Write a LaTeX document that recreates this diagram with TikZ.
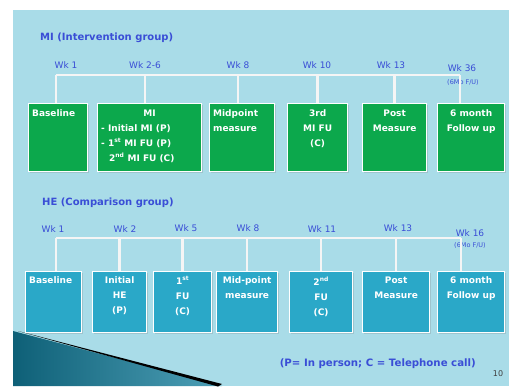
\documentclass[tikz,border=0pt]{standalone}
\usepackage{fontspec}
\setmainfont{DejaVu Sans}
\usetikzlibrary{shadows}
\definecolor{slidebg}{HTML}{A9DCE8}
\definecolor{migreen}{HTML}{0CA84C}
\definecolor{heblue}{HTML}{2AA8C8}
\definecolor{wkblue}{HTML}{3A4ED6}
\definecolor{wedge}{HTML}{13809F}
\newcommand{\cell}[3]{\parbox[t][#2][t]{#1}{#3}}
\tikzset{
  gb/.style={fill=migreen, draw=white, line width=1.3pt, anchor=north west,
             inner xsep=3.5pt, inner ysep=6.5pt, text=white,
             font=\fontsize{9}{15}\selectfont\bfseries,
             drop shadow={opacity=0.25, shadow xshift=1pt, shadow yshift=-1pt}},
  hb/.style={gb, fill=heblue, inner ysep=5pt},
  wk/.style={text=wkblue, font=\fontsize{9}{10}\selectfont, inner sep=0pt},
  fu/.style={text=wkblue, font=\fontsize{6.5}{7}\selectfont, inner sep=0pt},
  ttl/.style={text=wkblue, font=\fontsize{10}{11}\selectfont\bfseries,
              anchor=west, inner sep=0pt},
  bar/.style={white!92!gray, line width=2.4pt},
}

\begin{document}
\begin{tikzpicture}[x=1pt, y=-1pt]
    \useasboundingbox (0,0) rectangle (509,386);
    \fill[white] (0,0) rectangle (509,386);
    \fill[slidebg] (13,10) rectangle (509,386);
    % corner decoration
    \shade[left color=wedge!75!black, right color=wedge!75!white]
      (13,331) -- (222,386) -- (13,386) -- cycle;
    \fill[black] (18,331) -- (222,384) -- (218,386.5) -- cycle;

    % MI row
    \node[ttl] (mt) at (40,38) {MI (Intervention group)};
    \node[gb] (m1) at (28,103) {\cell{52pt}{55pt}{Baseline}};
    \node[gb] (m2) at (97,103) {\cell{97pt}{55pt}{\centering MI\par
      \raggedright - Initial MI (P)\par - 1\textsuperscript{st} MI FU (P)\par
      \hspace*{8pt}2\textsuperscript{nd} MI FU (C)}};
    \node[gb] (m3) at (209,103) {\cell{58pt}{55pt}{Midpoint\\measure}};
    \node[gb] (m4) at (287,103) {\cell{53pt}{55pt}{\centering 3rd\\MI FU\\(C)}};
    \node[gb] (m5) at (362,103) {\cell{57pt}{55pt}{\centering Post\\Measure}};
    \node[gb] (m6) at (437,103) {\cell{60pt}{55pt}{\centering 6 month\\Follow up}};

    \node[wk] (mw1) at (66,65) {Wk 1};
    \node[wk] (mw2) at (145,65) {Wk 2-6};
    \node[wk] (mw3) at (238,65) {Wk 8};
    \node[wk] (mw4) at (317,65) {Wk 10};
    \node[wk] (mw5) at (391,65) {Wk 13};
    \node[wk] (mw6) at (462,68) {Wk 36};
    \node[fu] (mf) at (463,82) {(6Mo F/U)};

    \coordinate (ml) at (56,75);
    \coordinate (mr) at (460,75);
    \draw[bar] (ml) -- (mr);
    \draw[bar] (ml) -- (m1.north -| ml);
    \draw[bar] (ml -| mw2) -- (m2.north -| mw2);
    \draw[bar] (ml -| mw3) -- (m3.north -| mw3);
    \draw[bar] (ml -| m4.north) -- (m4.north);
    \draw[bar] (ml -| m5.north) -- (m5.north);
    \draw[bar] (mr) -- (m6.north -| mr);

    % HE row
    \node[ttl] (ht) at (42,203) {HE (Comparison group)};
    \node[hb] (h1) at (25,271) {\cell{49pt}{51pt}{Baseline}};
    \node[hb] (h2) at (92,271) {\cell{47pt}{51pt}{\centering Initial\\HE\\(P)}};
    \node[hb] (h3) at (153,271) {\cell{51pt}{51pt}{\centering 1\textsuperscript{st}\\FU\\(C)}};
    \node[hb] (h4) at (216,271) {\cell{54pt}{51pt}{\centering Mid-point\\measure}};
    \node[hb] (h5) at (289,271) {\cell{56pt}{51pt}{\centering 2\textsuperscript{nd}\\FU\\(C)}};
    \node[hb] (h6) at (362,271) {\cell{60pt}{51pt}{\centering Post\\Measure}};
    \node[hb] (h7) at (437,271) {\cell{60pt}{51pt}{\centering 6 month\\Follow up}};

    \node[wk] (hw1) at (53,229) {Wk 1};
    \node[wk] (hw2) at (125,229) {Wk 2};
    \node[wk] (hw3) at (186,228) {Wk 5};
    \node[wk] (hw4) at (248,228) {Wk 8};
    \node[wk] (hw5) at (322,229) {Wk 11};
    \node[wk] (hw6) at (398,228) {Wk 13};
    \node[wk] (hw7) at (470,233) {Wk 16};
    \node[fu] (hf) at (470,245) {(6Mo F/U)};

    \coordinate (hl) at (56,238);
    \coordinate (hr) at (461,238);
    \draw[bar] (hl) -- (hr);
    \draw[bar] (hl) -- (h1.north -| hl);
    \draw[bar] (hl -| h2.north) -- (h2.north);
    \draw[bar] (hl -| h3.north) -- (h3.north);
    \draw[bar] (hl -| h4.north) -- (h4.north);
    \draw[bar] (hl -| h5.north) -- (h5.north);
    \draw[bar] (hl -| h6.north) -- (h6.north);
    \draw[bar] (hr) -- (h7.north -| hr);

    \node[ttl, anchor=east, font=\fontsize{10.2}{11}\selectfont\bfseries] (note) at (476,364) {(P= In person; C = Telephone call)};
    \node[inner sep=0pt, text=black!75, font=\fontsize{8}{9}\selectfont] (pg) at (498,374) {10};
\end{tikzpicture}
\end{document}
